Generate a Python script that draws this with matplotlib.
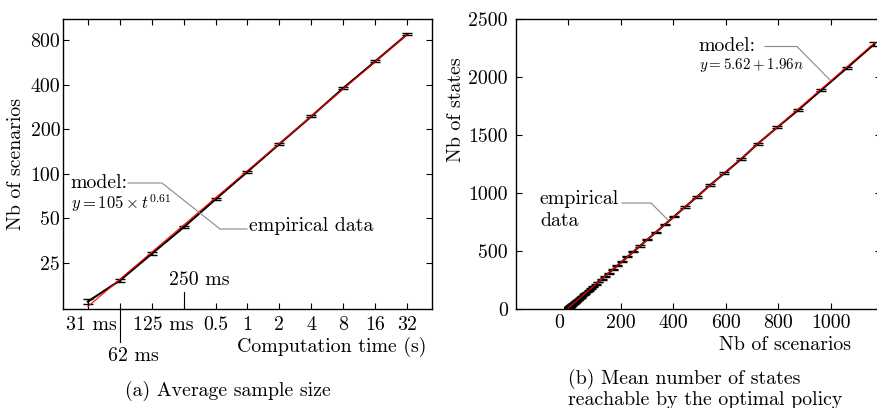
import numpy as np
import matplotlib
matplotlib.use('Agg')
import matplotlib.pyplot as plt
from matplotlib.transforms import ScaledTranslation, blended_transform_factory
from matplotlib.lines import Line2D

plt.rcParams['font.family'] = ['cmr10', 'DejaVu Serif']
plt.rcParams['mathtext.fontset'] = 'cm'
plt.rcParams['axes.formatter.use_mathtext'] = True
plt.rcParams['axes.unicode_minus'] = False

# ---------------- data (a) ----------------
time_s = [1/32, 1/16, 1/8, 1/4, 1/2, 1, 2, 4, 8, 16, 32]
time_labels = ['31 ms', '', '125 ms', '', '0.5', '1', '2', '4', '8', '16', '32']
scen_mean = [13.7, 19.0, 28.8, 43.5, 67.3, 103.3, 159, 244, 379, 574, 874]
scen_err = [0.6, 0.4, 0.6, 0.8, 1.1, 1.7, 2.5, 3.7, 5.6, 8.5, 12]
model_a_coef = 105
model_a_exp = 0.61
yticks_a = [25, 50, 100, 200, 400, 800]

# ---------------- data (b) ----------------
n_scen = [3, 3.5, 4, 4.5, 5, 5.6, 6.3, 7, 7.8, 8.6, 9.5, 10.5, 11.6,
          12.8, 14, 15.5, 17, 19, 21, 23, 25, 28, 31, 34, 37, 41, 45, 49, 54,
          60, 66, 72, 79, 87, 96, 106, 116, 128, 141, 155, 170, 187, 206, 226,
          249, 274, 302, 335, 369, 405, 446, 490, 541, 596, 658, 722, 797, 875,
          964, 1062, 1167]
n_states = [11.5, 12.5, 13.5, 14.5, 15.5, 16.6, 18, 19.5, 21, 22.5, 24, 26, 28.5,
            31, 33, 36, 39, 43, 47, 51, 55, 60, 66, 72, 78, 86, 94, 102, 111,
            123, 135, 147, 160, 176, 194, 213, 233, 257, 282, 309, 339, 372, 409,
            449, 494, 543, 598, 662, 729, 799, 880, 965, 1068, 1171, 1290, 1423,
            1566, 1712, 1887, 2078, 2285]
states_err = [2, 2, 2, 2, 2, 2, 2, 2, 2, 2, 2, 2, 2,
              2, 2, 2, 2, 2, 2, 2, 2, 2, 2, 2, 2, 3, 3, 3, 3,
              3, 3, 3, 3, 3, 3, 4, 4, 4, 4, 4, 4, 5, 5, 5,
              5, 5, 6, 6, 6, 6, 7, 7, 7, 8, 8, 8, 9, 9,
              10, 12, 18]
model_b_intercept = 5.62
model_b_slope = 1.96
xticks_b = [0, 200, 400, 600, 800, 1000]
yticks_b = [0, 500, 1000, 1500, 2000, 2500]

W, H = 878, 408
fig = plt.figure(figsize=(W / 100, H / 100), dpi=100)

def rect(l, t, r, b):
    return [l / W, 1 - b / H, (r - l) / W, (b - t) / H]

def px(x, y):
    return x / W, 1 - y / H

def shift(lab, dx):
    lab.set_transform(lab.get_transform() + ScaledTranslation(dx / 100, 0, fig.dpi_scale_trans))

FS = 14.3
GRAY = '#8a8a8a'

# ---------------- panel (a) ----------------
ax1 = fig.add_axes(rect(63, 19, 432, 309))
ax1.set_xscale('log', base=2)
ax1.set_yscale('log', base=2)
ax1.errorbar(time_s, scen_mean, yerr=scen_err, color='black', lw=1.5,
             capsize=3.5, capthick=1.0, elinewidth=1.0, zorder=2)
t_line = np.array([time_s[0], time_s[-1]])
ax1.plot(t_line, model_a_coef * t_line ** model_a_exp, color='red', lw=0.8, zorder=3)
ax1.set_xlim(2 ** -5.78, 2 ** 5.78)
ax1.set_ylim(12.2, 1110)
ax1.set_xticks(time_s)
ax1.set_xticklabels(time_labels)
ax1.set_yticks(yticks_a)
ax1.set_yticklabels([str(v) for v in yticks_a])
ax1.minorticks_off()
ax1.tick_params(direction='in', top=True, right=True, length=4, width=0.8,
                labelsize=FS)
ax1.tick_params(axis='x', pad=5)
ax1.tick_params(axis='y', pad=2)
for lab in ax1.get_xticklabels():
    if lab.get_text() == '125 ms':
        shift(lab, 12)
    if lab.get_text() == '31 ms':
        shift(lab, 3)
for s in ax1.spines.values():
    s.set_linewidth(1.0)
ax1.set_ylabel('Nb of scenarios', fontsize=FS)
ax1.yaxis.set_label_coords(-0.103, 0.5)
ax1.set_xlabel('Computation time (s)', fontsize=FS, loc='right')
ax1.xaxis.set_label_coords(0.984, -0.095)

bt = blended_transform_factory(ax1.transData, ax1.transAxes)
ax1.plot([time_s[1], time_s[1]], [0, -0.114], color='black', lw=0.8,
         transform=bt, clip_on=False)
ax1.annotate('62 ms', xy=(time_s[1], -0.114), xycoords=bt, xytext=(10, -10),
             textcoords='offset points', ha='center', va='center', fontsize=FS,
             annotation_clip=False)
ax1.plot([time_s[3], time_s[3]], [0, 0.06], color='black', lw=0.8,
         transform=bt, clip_on=False)
ax1.annotate('250 ms', xy=(time_s[3], 0.06), xycoords=bt, xytext=(11, 8),
             textcoords='offset points', ha='center', va='center', fontsize=FS)

# annotation leader (a)
xs, ys = zip(*[px(128, 183), px(162, 183), px(220, 229), px(247, 229)])
fig.add_artist(Line2D(xs, ys, color=GRAY, lw=0.8))
fig.text(*px(70, 183), 'model:', fontsize=FS, ha='left', va='center')
fig.text(*px(71, 203), r'$y = 105 \times t^{0.61}$', fontsize=12, ha='left', va='center')
fig.text(*px(249, 226), 'empirical data', fontsize=FS, ha='left', va='center')

fig.text(*px(228, 391), '(a) Average sample size', fontsize=FS, ha='center', va='center')

# ---------------- panel (b) ----------------
ax2 = fig.add_axes(rect(516, 19, 881, 309))
ax2.errorbar(n_scen, n_states, yerr=states_err, color='black', lw=1.5,
             capsize=3.5, capthick=1.0, elinewidth=1.0, zorder=2)
n_line = np.array([0, n_scen[-1]])
ax2.plot(n_line, model_b_intercept + model_b_slope * n_line, color='red', lw=0.8, zorder=3)
ax2.set_xlim(-198, 1192)
ax2.set_ylim(0, 2500)
ax2.set_xticks(xticks_b)
ax2.set_yticks(yticks_b)
ax2.set_xticklabels([str(v) for v in xticks_b])
ax2.set_yticklabels([str(v) for v in yticks_b])
ax2.tick_params(direction='in', top=True, right=True, length=4, width=0.8,
                labelsize=FS)
ax2.tick_params(axis='x', pad=4)
ax2.tick_params(axis='y', pad=6)
shift(ax2.get_xticklabels()[0], -9)
for s in ax2.spines.values():
    s.set_linewidth(1.0)
ax2.set_ylabel('Nb of states', fontsize=FS)
ax2.yaxis.set_label_coords(-0.14, 0.686)
ax2.set_xlabel('Nb of scenarios', fontsize=FS, loc='right')
ax2.xaxis.set_label_coords(0.918, -0.095)

xs, ys = zip(*[px(765, 46.5), px(797, 46.5), px(830, 80)])
fig.add_artist(Line2D(xs, ys, color=GRAY, lw=0.8))
fig.text(*px(698, 46), 'model:', fontsize=FS, ha='left', va='center')
fig.text(*px(699, 65), r'$y = 5.62 + 1.96n$', fontsize=10.8, ha='left', va='center')

xs, ys = zip(*[px(622, 203), px(651, 203), px(668, 220)])
fig.add_artist(Line2D(xs, ys, color=GRAY, lw=0.8))
fig.text(*px(540, 199), 'empirical', fontsize=FS, ha='left', va='center')
fig.text(*px(540, 221), 'data', fontsize=FS, ha='left', va='center')

fig.text(*px(568, 379), '(b) Mean number of states', fontsize=FS, ha='left', va='center')
fig.text(*px(568, 400), 'reachable by the optimal policy', fontsize=FS, ha='left', va='center')

fig.savefig('out.png', dpi=100)
